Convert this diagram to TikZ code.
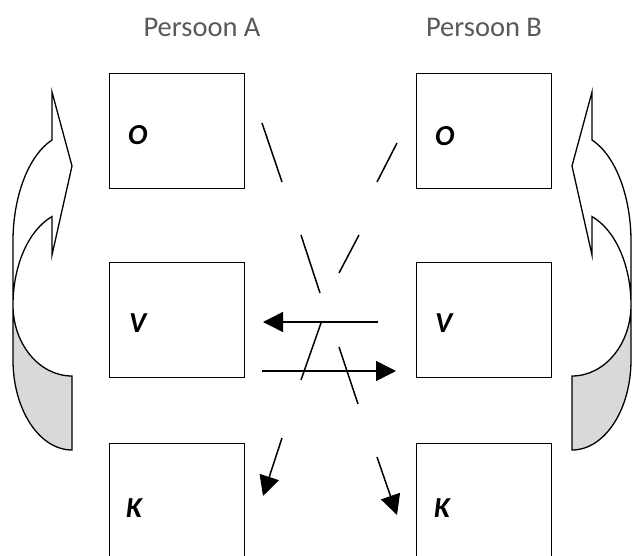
\documentclass[tikz,border=0pt]{standalone}
\usepackage{fontspec}
\setmainfont{Carlito}
\usetikzlibrary{arrows.meta}
\definecolor{labelgray}{HTML}{595959}
\definecolor{backshade}{HTML}{D9D9D9}

\begin{document}
\begin{tikzpicture}[x=1pt,y=-1pt,
  box/.style={draw, line width=1.3pt, minimum width=135pt, minimum height=115pt,
              inner sep=0pt, anchor=north west},
  letter/.style={font=\fontsize{29}{29}\selectfont\bfseries\itshape, inner sep=0pt, anchor=base west},
  person/.style={font=\fontsize{28.5}{30}\selectfont, text=labelgray, inner sep=0pt, anchor=base},
  link/.style={line width=1.5pt},
  linkarrow/.style={line width=1.5pt, -{Triangle[length=20pt,width=20pt]}},
  band/.style={draw, line width=1.3pt, line join=miter},
  bandback/.style={fill=backshade}
]
\useasboundingbox (0,0) rectangle (643,556);

% column headings
\node[person] (pa) at (202,37) {Persoon A};
\node[person] (pb) at (484,37) {Persoon B};

% boxes of person A and person B
\node[box] (OA) at (109,73)  {};
\node[box] (VA) at (109,262) {};
\node[box] (KA) at (109,443) {};
\node[box] (OB) at (416,73)  {};
\node[box] (VB) at (416,262) {};
\node[box] (KB) at (416,443) {};

\node[letter] (oa) at (128,145) {O};
\node[letter] (va) at (129,333) {V};
\node[letter] (ka) at (126,517) {K};
\node[letter] (ob) at (435,146) {O};
\node[letter] (vb) at (435,333) {V};
\node[letter] (kb) at (434,517) {K};

% end points of the broken diagonal lines
\coordinate (a1) at (262,123); \coordinate (a2) at (282,182);
\coordinate (a3) at (301,235); \coordinate (a4) at (320,293);
\coordinate (a5) at (339,347); \coordinate (a6) at (358,404);
\coordinate (a7) at (377,457); \coordinate (a8) at (397,515);
\coordinate (b1) at (397,143); \coordinate (b2) at (377,182);
\coordinate (b3) at (359,235); \coordinate (b4) at (339,273);
\coordinate (b5) at (321,323); \coordinate (b6) at (301,380);
\coordinate (b7) at (282,438); \coordinate (b8) at (263,496);
% end points of the horizontal arrows
\coordinate (h1) at (378,322); \coordinate (h2) at (263,322);
\coordinate (h3) at (262,371); \coordinate (h4) at (396,371);

\draw[link] (a1) -- (a2);
\draw[link] (a3) -- (a4);
\draw[link] (a5) -- (a6);
\draw[linkarrow] (a7) -- (a8);
\draw[link] (b1) -- (b2);
\draw[link] (b3) -- (b4);
\draw[link] (b5) -- (b6);
\draw[linkarrow] (b7) -- (b8);
\draw[linkarrow] (h1) -- (h2);
\draw[linkarrow] (h3) -- (h4);

% curved arrow on the left
\fill[bandback] (13,305) -- (13,360)
  arc[start angle=180, end angle=90, x radius=59, y radius=90]
  -- (72,376)
  arc[start angle=90, end angle=180, x radius=59, y radius=71] -- cycle;
\draw[band] (52,140)
  arc[start angle=250.2, end angle=180, x radius=59, y radius=108]
  -- (13,360)
  arc[start angle=180, end angle=90, x radius=59, y radius=90]
  -- (72,376)
  arc[start angle=90, end angle=180, x radius=59, y radius=71]
  arc[start angle=180, end angle=250.2, x radius=59, y radius=94]
  -- (52,255) -- (72,166) -- (52,92) -- cycle;

% curved arrow on the right (mirror image)
\begin{scope}[xshift=644pt, xscale=-1]
\fill[bandback] (13,305) -- (13,360)
  arc[start angle=180, end angle=90, x radius=59, y radius=90]
  -- (72,376)
  arc[start angle=90, end angle=180, x radius=59, y radius=71] -- cycle;
\draw[band] (52,140)
  arc[start angle=250.2, end angle=180, x radius=59, y radius=108]
  -- (13,360)
  arc[start angle=180, end angle=90, x radius=59, y radius=90]
  -- (72,376)
  arc[start angle=90, end angle=180, x radius=59, y radius=71]
  arc[start angle=180, end angle=250.2, x radius=59, y radius=94]
  -- (52,255) -- (72,166) -- (52,92) -- cycle;
\end{scope}
\end{tikzpicture}
\end{document}
